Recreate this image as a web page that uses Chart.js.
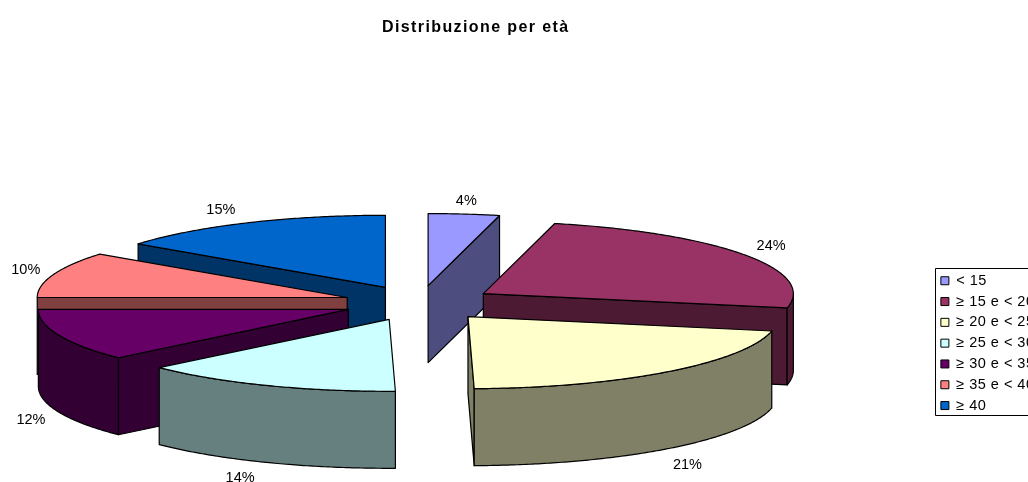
<!DOCTYPE html>
<html><head><meta charset="utf-8">
<script src="https://cdn.jsdelivr.net/npm/chart.js@4"></script>
<style>html,body{margin:0;padding:0;background:#fff;overflow:hidden}#wrap{width:1028px;height:482px;overflow:hidden}canvas{display:block}</style>
</head><body><div id="wrap"><canvas id="c" width="1039" height="482" style="width:1039px;height:482px"></canvas></div>
<script>
const categories = ['< 15','≥ 15 e < 20','≥ 20 e < 25','≥ 25 e < 30','≥ 30 e < 35','≥ 35 e < 40','≥ 40'];
const shares = [3.7,24.49,21.49,13.62,11.7,10.3,14.7];
const colors = ['#9999FF','#993366','#FFFFCC','#CCFFFF','#660066','#FF8080','#0066CC'];
const chartTitle = 'Distribuzione per età';

const FONT = '"Liberation Sans", Arial, sans-serif';
const RADIUS = 310, SQUASH = 72/310, DEPTH = 77, EXPLODE = 76, SHIFT_X = -56.5, SHIFT_Y = -71.5;
const LABEL_GAP_X = 28, LABEL_GAP_Y = 16;
const LABEL_NUDGE = [[-1,2.5],[3,-0.5],[3,3.5],[-15,0.5],[-2,1.5],[-1,0.5],[-14,1.5]];

function darken(hex){
  const n = parseInt(hex.slice(1),16);
  const h = v => Math.round(v*0.5).toString(16).padStart(2,'0');
  return '#'+h(n>>16&255)+h(n>>8&255)+h(n&255);
}
function poly(ctx, pts, fill){
  ctx.beginPath();
  pts.forEach((p,i)=> i?ctx.lineTo(p[0],p[1]):ctx.moveTo(p[0],p[1]));
  ctx.closePath();
  ctx.fillStyle = fill; ctx.fill();
  ctx.strokeStyle = '#000'; ctx.lineWidth = 1.2; ctx.lineJoin='round'; ctx.stroke();
}
function spaced(box, spacing){
  const draw = box.draw;
  box.draw = function(...args){
    const ctx = this.ctx;
    ctx.letterSpacing = spacing;
    draw.apply(this,args);
    ctx.letterSpacing = '0px';
  };
}
const pie3d = {
  id:'pie3d',
  afterInit(chart){
    spaced(chart.titleBlock,'1.4px');
    spaced(chart.legend,'0.5px');
  },
  beforeDatasetsDraw(chart){
    const ctx = chart.ctx;
    const meta = chart.getDatasetMeta(0);
    const slices = meta.data.map((el,i)=>{
      const mid = (el.startAngle+el.endAngle)/2;
      const off = el.options.offset;
      return {el,i,mid,
        tx: el.x+SHIFT_X+off*Math.cos(mid),
        ty: el.y+SHIFT_Y+off*SQUASH*Math.sin(mid)};
    });
    slices.sort((a,b)=>a.ty-b.ty);
    slices.forEach(s=>{
      const {el,tx,ty} = s;
      const at = a=>[tx+RADIUS*Math.cos(a), ty+RADIUS*SQUASH*Math.sin(a)];
      const arcPts=(a0,a1)=>{const n=Math.max(2,Math.ceil((a1-a0)/0.01)),r=[];for(let j=0;j<=n;j++)r.push(at(a0+(a1-a0)*j/n));return r;};
      const tip=[tx,ty], a=at(el.startAngle), b=at(el.endAngle);
      const side = darken(el.options.backgroundColor);
      const down = p=>[p[0],p[1]+DEPTH];
      if(a[0]<tip[0]-0.5) poly(ctx,[tip,a,down(a),down(tip)],side);
      if(tip[0]<b[0]-0.5) poly(ctx,[b,tip,down(tip),down(b)],side);
      for(let k=0;k<2;k++){
        const lo=Math.max(el.startAngle,k*2*Math.PI), hi=Math.min(el.endAngle,Math.PI+k*2*Math.PI);
        if(hi>lo){const r=arcPts(lo,hi); poly(ctx,r.concat(r.slice().reverse().map(down)),side);}
      }
      poly(ctx,[tip].concat(arcPts(el.startAngle,el.endAngle)),el.options.backgroundColor);
    });
    ctx.fillStyle='#000'; ctx.font='14.5px '+FONT; ctx.textAlign='center'; ctx.textBaseline='middle';
    const total = shares.reduce((x,y)=>x+y,0);
    slices.forEach(s=>{
      const c=Math.cos(s.mid), sn=Math.sin(s.mid);
      const x=s.tx+(RADIUS+LABEL_GAP_X)*c+LABEL_NUDGE[s.i][0];
      const y=s.ty+(RADIUS*SQUASH+LABEL_GAP_Y)*sn+(sn>0?DEPTH:0)+LABEL_NUDGE[s.i][1];
      ctx.fillText(Math.round(shares[s.i]/total*100)+'%',x,y);
    });
    return false;
  },
  afterDraw(chart){
    const lg=chart.legend, ctx=chart.ctx, hb=lg.legendHitBoxes;
    const last=hb[hb.length-1];
    const top=hb[0].top-6, bottom=last.top+last.height+2;
    ctx.save(); ctx.strokeStyle='#000'; ctx.lineWidth=1;
    ctx.strokeRect(Math.round(lg.left)+.5,Math.round(top)+.5,Math.round(lg.width)+20,Math.round(bottom-top));
    ctx.restore();
  }
};
new Chart(document.getElementById('c'),{
  type:'pie',
  data:{labels:categories,datasets:[{data:shares,backgroundColor:colors,borderColor:'#000',borderWidth:1,offset:EXPLODE,hoverOffset:0}]},
  options:{
    responsive:false,animation:false,radius:RADIUS,
    layout:{padding:{left:17,right:0,top:0,bottom:0}},
    plugins:{
      tooltip:{enabled:false},
      title:{display:true,text:chartTitle,fullSize:false,color:'#000',font:{family:FONT,size:16,weight:'bold'},padding:{top:17.5,bottom:230.5}},
      legend:{position:'right',align:'start',fullSize:false,labels:{color:'#000',font:{family:FONT,size:14.5},boxWidth:8,boxHeight:8,padding:6.3}}
    }
  },
  plugins:[pie3d]
});
</script></body></html>
